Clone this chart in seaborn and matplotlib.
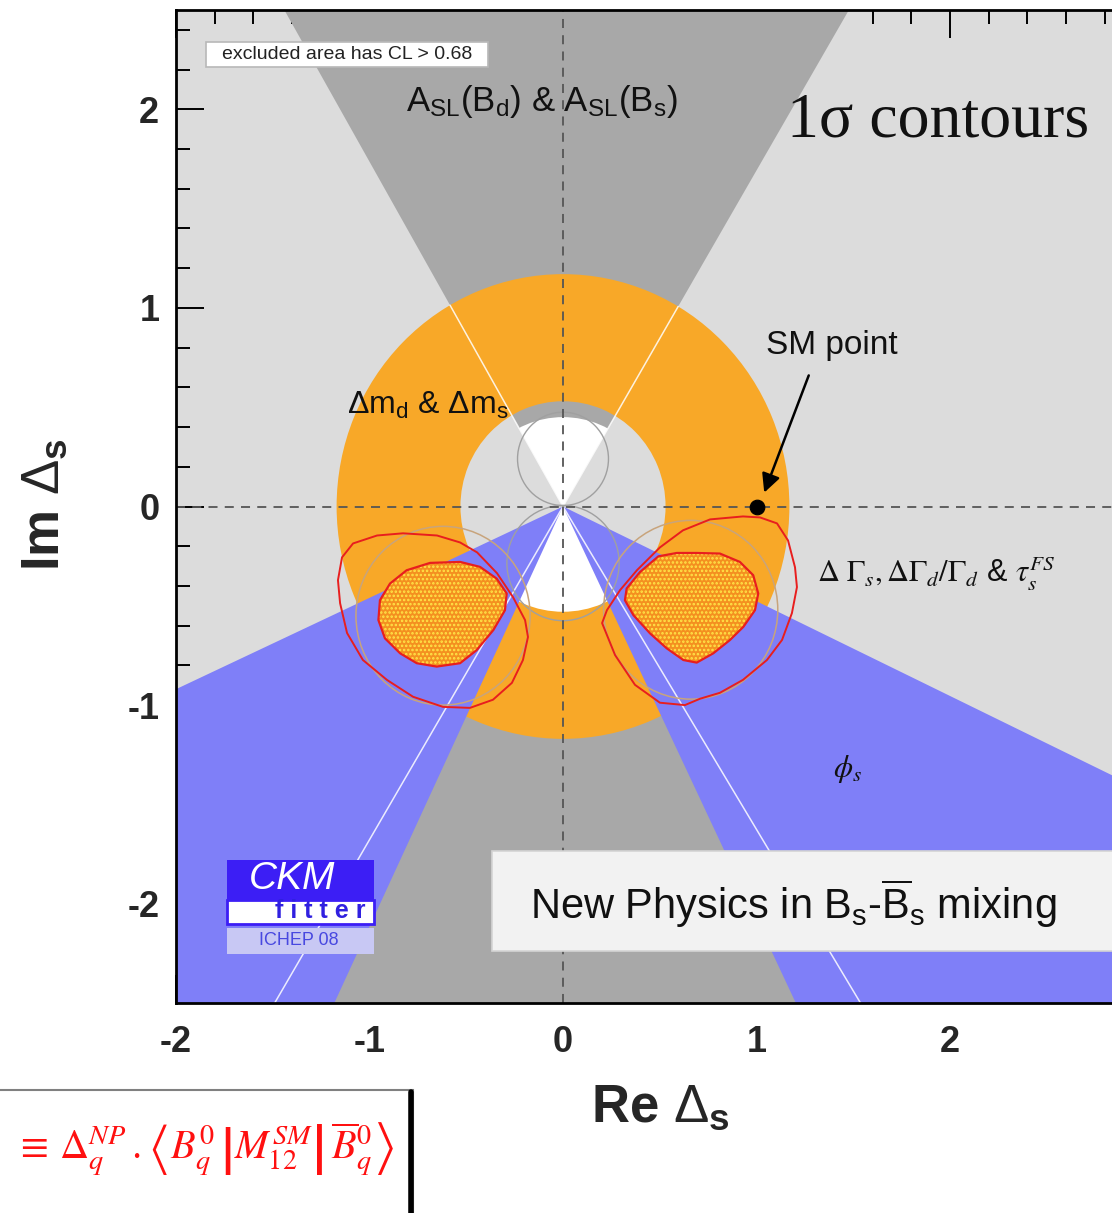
import numpy as np
import matplotlib
matplotlib.use("Agg")
import matplotlib.pyplot as plt
import seaborn as sns
from matplotlib.patches import Polygon, Rectangle, Wedge, Circle
from matplotlib.lines import Line2D
from matplotlib.ticker import FixedLocator, MultipleLocator

# ---------------- data ----------------
x_ticks = [-2, -1, 0, 1, 2]
x_tick_labels = ["-2", "-1", "0", "1", "2"]
y_ticks = [-2, -1, 0, 1, 2]
y_tick_labels = ["-2", "-1", "0", "1", "2"]

# A_SL(B_d) & A_SL(B_s) double cone: |dx/dy| of the edges
asl_upper_halfwidth = [0.576, 0.591]   # left, right
asl_lower_halfwidth = [0.596, 0.615]   # left, right
asl_hole_center = [0.0, -0.05]
asl_hole_radius = 0.50

# phi_s wedges (degrees)
phis_left_wedge = [204.7, 244.7]
phis_right_wedge = [295.7, 334.5]

# Delta m annulus radii
dm_inner_radius = 0.53
dm_outer_radius = 1.17

# thin reference circles (center x, center y, radius)
gray_circles_x = [0.0, 0.0]
gray_circles_y = [0.24, -0.285]
gray_circles_r = [0.235, 0.29]
tan_circles_x = [-0.62, 0.66]
tan_circles_y = [-0.55, -0.52]
tan_circles_r = [0.45, 0.45]

# SM point
sm_x = [1.0]
sm_y = [0.0]

# hatched 1-sigma combined regions
blob_right_x = [0.691, 0.811, 0.914, 0.983, 1.009, 0.992, 0.932, 0.863, 0.777, 0.691,
                0.622, 0.536, 0.450, 0.364, 0.320, 0.329, 0.398, 0.493, 0.588]
blob_right_y = [-0.234, -0.237, -0.279, -0.346, -0.438, -0.522, -0.606, -0.672, -0.739, -0.786,
                -0.773, -0.714, -0.639, -0.547, -0.472, -0.413, -0.330, -0.251, -0.234]
blob_left_x = [-0.687, -0.532, -0.429, -0.343, -0.291, -0.300, -0.360, -0.446, -0.532,
               -0.653, -0.756, -0.842, -0.920, -0.954, -0.946, -0.894, -0.808]
blob_left_y = [-0.284, -0.279, -0.304, -0.363, -0.438, -0.522, -0.622, -0.723, -0.789,
               -0.806, -0.789, -0.739, -0.664, -0.572, -0.472, -0.388, -0.321]

# red contours of Delta Gamma constraints
red_right_x = [0.930, 1.018, 1.106, 1.163, 1.199, 1.209, 1.183, 1.132, 1.054, 0.930, 0.811,
               0.708, 0.630, 0.501, 0.372, 0.269, 0.202, 0.227, 0.295, 0.382, 0.501, 0.620, 0.760]
red_right_y = [-0.050, -0.055, -0.085, -0.171, -0.306, -0.406, -0.537, -0.672, -0.773, -0.873, -0.938,
               -0.968, -1.000, -0.988, -0.898, -0.748, -0.587, -0.522, -0.421, -0.321, -0.206, -0.120, -0.065]
red_left_x = [-0.827, -0.651, -0.532, -0.444, -0.341, -0.258, -0.196, -0.181, -0.207, -0.264, -0.362,
              -0.481, -0.620, -0.775, -0.910, -1.034, -1.116, -1.152, -1.163, -1.142, -1.085, -0.961]
red_left_y = [-0.135, -0.146, -0.181, -0.231, -0.336, -0.457, -0.572, -0.657, -0.773, -0.888, -0.973,
              -1.014, -1.009, -0.958, -0.873, -0.773, -0.637, -0.487, -0.371, -0.256, -0.186, -0.146]

# ---------------- style ----------------
sns.set_theme(style="ticks")
plt.rcParams["font.family"] = ["Liberation Sans", "DejaVu Sans"]
plt.rcParams["mathtext.fontset"] = "custom"
plt.rcParams["mathtext.rm"] = "Liberation Sans"
plt.rcParams["mathtext.it"] = "Liberation Sans:italic"
plt.rcParams["mathtext.bf"] = "Liberation Sans:bold"
plt.rcParams["hatch.linewidth"] = 1.2

LIGHT = "#dcdcdc"
DARK = "#a8a8a8"
ORANGE = "#f8a828"
BLUE = "#7f7ff8"

fig = plt.figure(figsize=(11.12, 12.13), dpi=100)
ax = fig.add_axes([176 / 1112, 1 - 1003 / 1213, (1143.5 - 176) / 1112, (1003 - 10) / 1213])
ax.set_xlim(-2, 3)
ax.set_ylim(-2.5, 2.5)
ax.set_facecolor(LIGHT)

# A_SL double cone
R = 10
cone = Polygon([(-asl_upper_halfwidth[0] * R, R), (0, 0), (-asl_lower_halfwidth[0] * R, -R),
                (asl_lower_halfwidth[1] * R, -R), (0, 0), (asl_upper_halfwidth[1] * R, R)],
               closed=True, facecolor=DARK, edgecolor="none", zorder=1)
ax.add_patch(cone)
hole = Circle(asl_hole_center, asl_hole_radius, facecolor="white", edgecolor="none", zorder=1.5)
ax.add_patch(hole)
hole.set_clip_path(cone)

# Delta m annulus
ax.add_patch(Wedge((0, 0), dm_outer_radius, 0, 360, width=dm_outer_radius - dm_inner_radius,
                   facecolor=ORANGE, edgecolor="none", zorder=2))

# phi_s wedges
for th in (phis_left_wedge, phis_right_wedge):
    ax.add_patch(Wedge((0, 0), R, th[0], th[1], facecolor=BLUE, edgecolor="none", zorder=3))

# white cone edges (upper ones only visible up to the annulus edge)
for hw, sgn, length in ((-asl_upper_halfwidth[0], 1, dm_outer_radius),
                        (asl_upper_halfwidth[1], 1, dm_outer_radius),
                        (-asl_lower_halfwidth[0], -1, 3.0),
                        (asl_lower_halfwidth[1], -1, 3.0)):
    ang = np.arctan2(sgn, hw)
    ax.plot([0, length * np.cos(ang)], [0, length * np.sin(ang)],
            color="white", lw=1.1, alpha=0.85, zorder=4)

# thin circles
for cx, cy, r in zip(gray_circles_x, gray_circles_y, gray_circles_r):
    ax.add_patch(Circle((cx, cy), r, fill=False, edgecolor="#a0a0a0", lw=1.0, zorder=4))
for cx, cy, r in zip(tan_circles_x, tan_circles_y, tan_circles_r):
    ax.add_patch(Circle((cx, cy), r, fill=False, edgecolor="#c8a47c", lw=1.1, zorder=4))

# red contours
for xs, ys in ((red_left_x, red_left_y), (red_right_x, red_right_y)):
    ax.add_patch(Polygon(np.column_stack([xs, ys]), closed=True, fill=False,
                         edgecolor="#e81e1e", lw=1.4, joinstyle="round", zorder=5))

# hatched regions
for xs, ys in ((blob_left_x, blob_left_y), (blob_right_x, blob_right_y)):
    pts = np.column_stack([xs, ys])
    ax.add_patch(Polygon(pts, closed=True, facecolor="#f49020", edgecolor="#ffe648",
                         hatch="....", lw=0, zorder=5))
    ax.add_patch(Polygon(pts, closed=True, fill=False, edgecolor="#e81e1e",
                         lw=1.6, joinstyle="round", zorder=5.5))

# dashed axes
ax.axhline(0, color="#555555", lw=1.3, dashes=(5, 4), zorder=6)
ax.axvline(0, color="#555555", lw=1.3, dashes=(5, 4), zorder=6)

# SM point
sns.scatterplot(x=sm_x, y=sm_y, color="black", s=110, edgecolor="black", zorder=8, ax=ax, legend=False)
ax.annotate("", xy=(1.04, 0.07), xytext=(1.27, 0.66),
            arrowprops=dict(arrowstyle="-|>", color="black", lw=1.8, mutation_scale=28,
                            shrinkA=0, shrinkB=0), zorder=8)
ax.text(1.39, 0.81, "SM point", fontsize=24, ha="center", va="center", color="#111111", zorder=9)

# labels in the plot
ax.add_patch(Rectangle((-1.845, 2.213), 1.457, 0.125, facecolor="white", edgecolor="#b8b8b8",
                       lw=1.2, zorder=9))
ax.text(-1.116, 2.276, "excluded area has CL > 0.68", fontsize=14, ha="center", va="center",
        color="#222222", zorder=10)
ax.text(-0.11, 2.04, r"$\mathregular{A_{SL}(B_d)}$ & $\mathregular{A_{SL}(B_s)}$", fontsize=25,
        ha="center", va="center", color="#111111", zorder=10)
ax.text(1.158, 1.94, "1σ contours", fontsize=46, family=["Liberation Serif", "DejaVu Serif"],
        ha="left", va="center", color="#111111", zorder=10)
ax.text(-0.70, 0.51, r"$\mathregular{\Delta m_d}$ & $\mathregular{\Delta m_s}$", fontsize=23,
        ha="center", va="center", color="#111111", zorder=10)
ax.text(1.313, -0.34, r"$\Delta\ \Gamma_s, \Delta\Gamma_d/\Gamma_d$ & $\tau_s^{FS}$", fontsize=22,
        math_fontfamily="stix", ha="left", va="center", color="#111111", zorder=10)
ax.text(1.47, -1.32, r"$\phi_s$", fontsize=22, math_fontfamily="stix",
        ha="center", va="center", color="#111111", zorder=10)

# New Physics box
ax.add_patch(Rectangle((-0.366, -2.236), 4.0, 0.502, facecolor="#f2f2f2", edgecolor="#d4d4d4",
                       lw=1.2, zorder=9))
ax.text(-0.17, -2.0, r"New Physics in $\mathregular{B_s}$-$\mathregular{\overline{B}_s}$ mixing",
        fontsize=30, ha="left", va="center", color="#111111", zorder=10)

# CKMfitter logo
ax.add_patch(Rectangle((-1.737, -1.979), 0.758, 0.197, facecolor="#3c1ef5", edgecolor="none", zorder=9))
ax.add_patch(Rectangle((-1.737, -2.100), 0.758, 0.121, facecolor="white", edgecolor="#3c1ef5",
                       lw=2, zorder=9))
ax.add_patch(Rectangle((-1.737, -2.251), 0.758, 0.131, facecolor="#c8c8f4", edgecolor="none", zorder=9))
ax.text(-1.40, -1.875, "CKM", fontsize=28, style="italic", color="white",
        ha="center", va="center", zorder=10)
ax.text(-1.02, -2.038, "f i t t e r", fontsize=18, fontweight="bold", color="#3020e0",
        ha="right", va="center", zorder=10)
ax.text(-1.364, -2.186, "ICHEP 08", fontsize=13, color="#4848e0",
        ha="center", va="center", zorder=10)

# axes styling
ax.xaxis.set_major_locator(FixedLocator(x_ticks))
ax.yaxis.set_major_locator(FixedLocator(y_ticks))
ax.set_xticklabels(x_tick_labels)
ax.set_yticklabels(y_tick_labels)
ax.xaxis.set_minor_locator(MultipleLocator(0.2))
ax.yaxis.set_minor_locator(MultipleLocator(0.2))
ax.tick_params(which="both", direction="in", top=True, right=True, color="black", width=1.4)
ax.tick_params(which="major", length=20)
ax.tick_params(which="minor", length=10)
ax.tick_params(axis="x", pad=16)
ax.tick_params(axis="y", pad=12)
for lab in ax.get_xticklabels() + ax.get_yticklabels():
    lab.set_fontsize(26)
    lab.set_fontweight("bold")
for sp in ax.spines.values():
    sp.set_linewidth(2)
    sp.set_color("black")
    sp.set_zorder(11)

fig.text(45 / 1112, 1 - 505 / 1213, r"Im $\mathrm{\Delta}_\mathbf{s}$", rotation=90,
         fontsize=38, fontweight="bold", ha="center", va="center")
fig.text(660 / 1112, 1 - 1108 / 1213, r"Re $\mathrm{\Delta}_\mathbf{s}$",
         fontsize=38, fontweight="bold", ha="center", va="center")

# formula box
fig.add_artist(Rectangle((-0.01, -0.01), 413 / 1112 + 0.01, (1 - 1090 / 1213) + 0.01,
                         transform=fig.transFigure, facecolor="white", edgecolor="#808080", lw=1.5))
fig.add_artist(Line2D([411 / 1112] * 2, [0, 1 - 1092 / 1213], transform=fig.transFigure,
                      color="black", lw=4))
fig.text(205 / 1112, 1 - 1150 / 1213,
         r"$\equiv\,\Delta_q^{NP}\,.\left\langle B_q^0\,\right|M_{12}^{SM}\left|\,\overline{B}_q^0\right\rangle$",
         color="#ff1010", fontsize=29, math_fontfamily="stix", ha="center", va="center")

fig.savefig("out.png", dpi=100)
